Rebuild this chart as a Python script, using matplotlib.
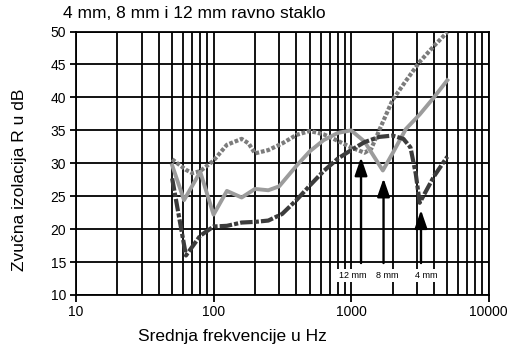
import matplotlib
matplotlib.use('Agg')
import matplotlib.pyplot as plt
from matplotlib.ticker import LogLocator, FixedLocator, NullFormatter

plt.rcParams['font.family'] = ['Liberation Sans', 'DejaVu Sans']

# 4 mm staklo (tamna crta-tocka)
f_4mm = [50, 63, 80, 100, 125, 160, 200, 250, 315, 400, 500, 630, 800, 1000,
         1250, 1600, 2000, 2400, 2700, 2950, 3150, 4000, 5000]
r_4mm = [27.7, 16.0, 19.0, 20.4, 20.5, 21.0, 21.1, 21.3, 22.3, 24.4, 26.6, 28.8, 30.7, 32.0,
         33.2, 34.0, 34.2, 33.7, 32.4, 28.4, 24.0, 28.0, 31.0]

# 8 mm staklo (svijetlo siva puna)
f_8mm = [50, 61, 80, 100, 125, 160, 200, 250, 300, 400, 500, 630, 800, 1000,
         1250, 1700, 2000, 2500, 3150, 4000, 5000]
r_8mm = [29.7, 24.4, 28.7, 22.2, 25.8, 24.8, 26.1, 25.9, 26.5, 29.6, 31.8, 33.5, 34.6, 35.0,
         33.3, 28.9, 31.5, 35.2, 37.4, 40.0, 42.6]

# 12 mm staklo (siva tockasta)
f_12mm = [50, 63, 70, 80, 100, 125, 160, 180, 200, 250, 315, 400, 500, 630, 800, 1000,
          1250, 1400, 1600, 2000, 2500, 3150, 4000, 5000]
r_12mm = [30.6, 29.0, 28.5, 28.8, 30.4, 32.8, 33.7, 33.0, 31.5, 32.0, 33.0, 34.3, 34.9, 34.4, 33.4, 32.4,
          31.6, 32.2, 35.0, 39.6, 42.5, 45.4, 47.8, 49.9]

# strelice: frekvencija, vrh strelice, oznaka
arrow_f = [1180, 1720, 3220]
arrow_tip = [30.9, 27.7, 22.9]
label_f = [1030, 1830, 3540]
labels = ['12 mm', '8 mm', '4 mm']

fig = plt.figure(figsize=(5.08, 3.48), dpi=100)
ax = fig.add_axes([76/508, 1-295/348, (488.7-76)/508, (295-31.5)/348])

ax.plot(f_12mm, r_12mm, color='#7c7c7c', lw=3.0, dashes=(0.9, 0.45), zorder=3)
ax.plot(f_8mm, r_8mm, color='#9c9c9c', lw=2.8, zorder=3)
ax.plot(f_4mm, r_4mm, color='#3c3c3c', lw=3.0, dashes=(3, 0.5, 1, 0.5), zorder=4)

for f, tip in zip(arrow_f, arrow_tip):
    ax.annotate('', xy=(f, tip), xytext=(f, 14.85),
                arrowprops=dict(arrowstyle='-|>,head_length=1.1,head_width=0.38',
                                color='black', lw=1.7, shrinkA=0, shrinkB=0),
                zorder=5)
for f, t in zip(label_f, labels):
    ax.text(f, 13.0, t, ha='center', va='center', fontsize=6.5, zorder=5,
            bbox=dict(facecolor='white', edgecolor='none', pad=1.5))

ax.set_xscale('log')
ax.set_xlim(10, 10000)
ax.set_ylim(10, 50)
ax.set_yticks(range(10, 51, 5))
ax.xaxis.set_major_locator(FixedLocator([10, 100, 1000, 10000]))
ax.xaxis.set_minor_locator(LogLocator(base=10, subs=range(2, 10)))
ax.xaxis.set_minor_formatter(NullFormatter())
ax.set_xticklabels(['10', '100', '1000', '10000'])

ax.set_axisbelow(True)
ax.grid(which='both', axis='x', color='black', lw=1.3)
ax.grid(which='major', axis='y', color='black', lw=1.3)
for s in ax.spines.values():
    s.set_linewidth(1.3)

ax.tick_params(axis='x', which='major', direction='out', length=5, width=1.3, pad=2)
ax.tick_params(axis='x', which='minor', length=0)
ax.tick_params(axis='y', direction='out', length=4, width=1.3, pad=3)
for lab in ax.get_xticklabels() + ax.get_yticklabels():
    lab.set_fontsize(10)

fig.text(63/508, 1-13/348, '4 mm, 8 mm i 12 mm ravno staklo', fontsize=12.5, va='center', ha='left')
fig.text(232/508, 1-337/348, 'Srednja frekvencije u Hz', fontsize=12.5, va='center', ha='center')
fig.text(20/508, 1-180/348, 'Zvučna izolacija R u dB', fontsize=12.5, va='center', ha='center', rotation=90)

fig.savefig('out.png', dpi=100)
